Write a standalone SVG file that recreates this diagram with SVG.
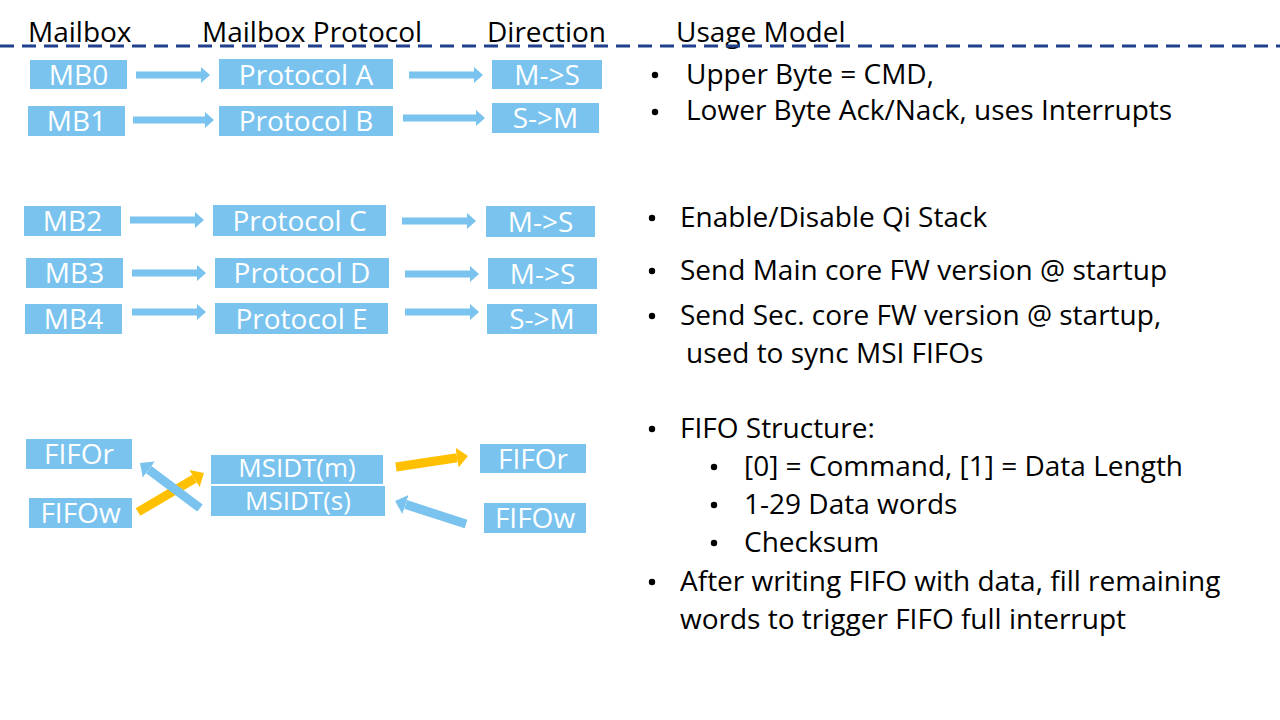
<svg xmlns="http://www.w3.org/2000/svg" width="1280" height="720" viewBox="0 0 1280 720">
<style>
  .bg{fill:#ffffff}
  .box{fill:#79C3EE}
  .lbl{font-family:"Open Sans","Noto Sans",sans-serif;font-size:28px;fill:#ffffff;text-anchor:middle}
  .lbs{font-family:"Open Sans","Noto Sans",sans-serif;font-size:26px;fill:#ffffff;text-anchor:middle}
  .hdr{font-family:"Open Sans","Noto Sans",sans-serif;font-size:28px;fill:#000000}
  .txt{font-family:"Open Sans","Noto Sans",sans-serif;font-size:28px;fill:#000000}
  .dot{fill:#000000}
  .sep{stroke:#203F8C;stroke-width:3;stroke-dasharray:14 8;fill:none}
  .ah{stroke:#79C3EE;stroke-width:7;fill:none}
  .ad{stroke:#79C3EE;stroke-width:9;fill:none}
  .ay{stroke:#FFC000;stroke-width:9;fill:none}
</style>
<defs>
  <marker id="hb" markerUnits="userSpaceOnUse" markerWidth="12" markerHeight="18" refX="0" refY="8" orient="auto" viewBox="0 0 12 16"><path d="M0,0 L9,8 L0,16 z" fill="#79C3EE"/></marker>
  <marker id="db" markerUnits="userSpaceOnUse" markerWidth="14" markerHeight="22" refX="0" refY="10" orient="auto" viewBox="0 0 14 20"><path d="M0,0 L11,10 L0,20 z" fill="#79C3EE"/></marker>
  <marker id="dy" markerUnits="userSpaceOnUse" markerWidth="14" markerHeight="22" refX="0" refY="10" orient="auto" viewBox="0 0 14 20"><path d="M0,0 L11,10 L0,20 z" fill="#FFC000"/></marker>
</defs>
<rect class="bg" x="0" y="0" width="1280" height="720"/>

<g id="headers">
  <text class="hdr" x="28" y="42">Mailbox</text>
  <text class="hdr" x="202" y="42">Mailbox Protocol</text>
  <text class="hdr" x="487" y="42">Direction</text>
  <text class="hdr" x="676" y="42">Usage Model</text>
  <line class="sep" x1="0" y1="46" x2="1280" y2="46"/>
</g>

<g id="connectors">
  <line class="ah" x1="136" y1="75" x2="201" y2="75" marker-end="url(#hb)"/>
  <line class="ah" x1="133" y1="120" x2="205" y2="120" marker-end="url(#hb)"/>
  <line class="ah" x1="409" y1="75" x2="474" y2="75" marker-end="url(#hb)"/>
  <line class="ah" x1="403" y1="118" x2="476" y2="118" marker-end="url(#hb)"/>
  <line class="ah" x1="130" y1="220" x2="195" y2="220" marker-end="url(#hb)"/>
  <line class="ah" x1="402" y1="221" x2="467" y2="221" marker-end="url(#hb)"/>
  <line class="ah" x1="132" y1="273" x2="197" y2="273" marker-end="url(#hb)"/>
  <line class="ah" x1="405" y1="274" x2="470" y2="274" marker-end="url(#hb)"/>
  <line class="ah" x1="132" y1="312" x2="197" y2="312" marker-end="url(#hb)"/>
  <line class="ah" x1="405" y1="312" x2="470" y2="312" marker-end="url(#hb)"/>
  <line class="ay" x1="138" y1="512" x2="194.5" y2="478.6" marker-end="url(#dy)"/>
  <line class="ad" x1="200" y1="508" x2="148.8" y2="469.6" marker-end="url(#db)"/>
  <line class="ay" x1="396" y1="467" x2="457.1" y2="457.7" marker-end="url(#dy)"/>
  <line class="ad" x1="466" y1="524" x2="405.5" y2="504.4" marker-end="url(#db)"/>
</g>

<g id="mb0"><rect class="box" x="30" y="60" width="97" height="29"/><text class="lbl" x="78.5" y="85">MB0</text></g>
<g id="mb1"><rect class="box" x="28" y="106" width="97" height="30"/><text class="lbl" x="76.5" y="131">MB1</text></g>
<g id="protA"><rect class="box" x="219" y="59" width="174" height="30"/><text class="lbl" x="306" y="85">Protocol A</text></g>
<g id="protB"><rect class="box" x="219" y="106" width="174" height="30"/><text class="lbl" x="306" y="131">Protocol B</text></g>
<g id="dirA"><rect class="box" x="492" y="60" width="110" height="29"/><text class="lbl" x="547" y="85">M-&gt;S</text></g>
<g id="dirB"><rect class="box" x="492" y="103" width="107" height="30"/><text class="lbl" x="545.5" y="128">S-&gt;M</text></g>

<g id="mb2"><rect class="box" x="24" y="206" width="97" height="30"/><text class="lbl" x="72.5" y="231">MB2</text></g>
<g id="protC"><rect class="box" x="213" y="205" width="173" height="31"/><text class="lbl" x="299.5" y="231">Protocol C</text></g>
<g id="dirC"><rect class="box" x="486" y="206" width="109" height="31"/><text class="lbl" x="540.5" y="232">M-&gt;S</text></g>
<g id="mb3"><rect class="box" x="26" y="258" width="97" height="30"/><text class="lbl" x="74.5" y="283">MB3</text></g>
<g id="protD"><rect class="box" x="215" y="258" width="174" height="30"/><text class="lbl" x="302" y="283">Protocol D</text></g>
<g id="dirD"><rect class="box" x="488" y="258" width="109" height="31"/><text class="lbl" x="542.5" y="284">M-&gt;S</text></g>
<g id="mb4"><rect class="box" x="25" y="304" width="97" height="30"/><text class="lbl" x="73.5" y="329">MB4</text></g>
<g id="protE"><rect class="box" x="215" y="303" width="173" height="31"/><text class="lbl" x="301.5" y="329">Protocol E</text></g>
<g id="dirE"><rect class="box" x="487" y="304" width="110" height="30"/><text class="lbl" x="542" y="329">S-&gt;M</text></g>

<g id="fifoR1"><rect class="box" x="26" y="439" width="106" height="30"/><text class="lbl" x="79" y="464">FIFOr</text></g>
<g id="fifoW1"><rect class="box" x="29" y="498" width="103" height="30"/><text class="lbl" x="80.5" y="523">FIFOw</text></g>
<g id="msidtM"><rect class="box" x="211" y="455" width="172" height="29"/><text class="lbs" x="297" y="477">MSIDT(m)</text></g>
<g id="msidtS"><rect class="box" x="211" y="486" width="174" height="30"/><text class="lbs" x="298" y="510">MSIDT(s)</text></g>
<g id="fifoR2"><rect class="box" x="480" y="444" width="106" height="29"/><text class="lbl" x="533" y="469">FIFOr</text></g>
<g id="fifoW2"><rect class="box" x="484" y="503" width="102" height="30"/><text class="lbl" x="535" y="528">FIFOw</text></g>

<g id="usage">
  <circle class="dot" cx="655" cy="75" r="3.2"/><text class="txt" x="686" y="84">Upper Byte = CMD,</text>
  <circle class="dot" cx="655" cy="112" r="3.2"/><text class="txt" x="686" y="120">Lower Byte Ack/Nack, uses Interrupts</text>
  <circle class="dot" cx="652" cy="218" r="3.2"/><text class="txt" x="680" y="227">Enable/Disable Qi Stack</text>
  <circle class="dot" cx="652" cy="271" r="3.2"/><text class="txt" x="680" y="280">Send Main core FW version @ startup</text>
  <circle class="dot" cx="652" cy="316" r="3.2"/><text class="txt" x="680" y="325">Send Sec. core FW version @ startup,</text>
  <text class="txt" x="686" y="363">used to sync MSI FIFOs</text>
  <circle class="dot" cx="652" cy="429" r="3.2"/><text class="txt" x="680" y="438">FIFO Structure:</text>
  <circle class="dot" cx="714" cy="467" r="3.2"/><text class="txt" x="744" y="476">[0] = Command, [1] = Data Length</text>
  <circle class="dot" cx="714" cy="505" r="3.2"/><text class="txt" x="744" y="514">1-29 Data words</text>
  <circle class="dot" cx="714" cy="543" r="3.2"/><text class="txt" x="744" y="552">Checksum</text>
  <circle class="dot" cx="652" cy="582" r="3.2"/><text class="txt" x="680" y="591">After writing FIFO with data, fill remaining</text>
  <text class="txt" x="680" y="629">words to trigger FIFO full interrupt</text>
</g>
</svg>
